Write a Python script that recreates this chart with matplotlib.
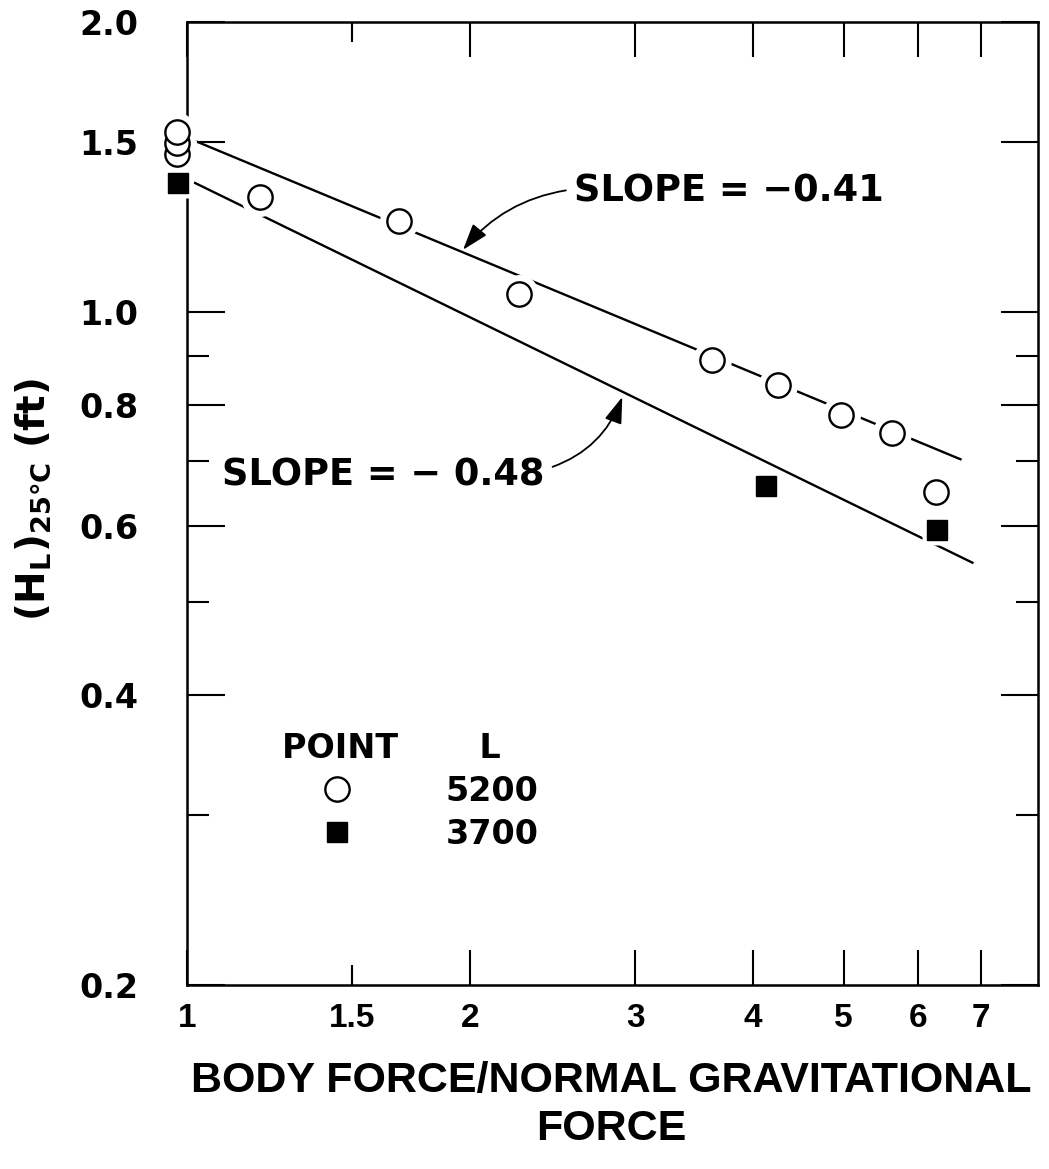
import matplotlib
matplotlib.use('Agg')
import matplotlib.pyplot as plt
from matplotlib.ticker import FixedLocator, FixedFormatter

plt.rcParams['font.family'] = 'DejaVu Sans'
plt.rcParams['font.weight'] = 'bold'
plt.rcParams['mathtext.fontset'] = 'dejavusans'
plt.rcParams['mathtext.default'] = 'bf'

# L = 5200 (open circles)
force_5200 = [0.976, 0.976, 0.976, 1.196, 1.682, 2.258, 3.624, 4.260, 4.971, 5.634, 6.277]
hl_5200 = [1.458, 1.497, 1.537, 1.316, 1.243, 1.044, 0.891, 0.840, 0.781, 0.749, 0.650]

# L = 3700 (filled squares)
force_3700 = [0.978, 4.136, 6.292]
hl_3700 = [1.361, 0.660, 0.594]

# fitted lines
fit_041_x = [1.015, 6.657]
fit_041_y = [1.508, 0.703]
fit_048_x = [1.020, 6.855]
fit_048_y = [1.361, 0.549]

x_major = [1, 2, 3, 4, 5, 6, 7]
x_major_labels = ['1', '2', '3', '4', '5', '6', '7']
x_minor = [1.5]
x_minor_labels = ['1.5']
y_major = [0.2, 0.4, 0.6, 0.8, 1.0, 1.5, 2.0]
y_major_labels = ['0.2', '0.4', '0.6', '0.8', '1.0', '1.5', '2.0']
y_minor = [0.3, 0.5, 0.7, 0.9]

fig = plt.figure(figsize=(10.49, 11.69), dpi=100)
ax = fig.add_axes([187 / 1049, (1169 - 985) / 1169, (1038 - 187) / 1049, 963 / 1169])
ax.set_xscale('log')
ax.set_yscale('log')
ax.set_xlim(1, 8.05)
ax.set_ylim(0.2, 2.0)

# lines
ax.plot(fit_041_x, fit_041_y, color='black', lw=1.7, zorder=2)
ax.plot(fit_048_x, fit_048_y, color='black', lw=1.7, zorder=2)

# white halos so the lines break around the markers
ax.plot(force_5200, hl_5200, 'o', ms=28, mfc='white', mec='none', zorder=3, clip_on=False)
ax.plot(force_3700, hl_3700, 's', ms=21, mfc='white', mec='none', zorder=3, clip_on=False)

h1, = ax.plot(force_5200, hl_5200, 'o', ms=17.5, mfc='white', mec='black', mew=1.7,
              zorder=5, clip_on=False, label='5200')
h2, = ax.plot(force_3700, hl_3700, 's', ms=14.5, mfc='black', mec='black',
              zorder=5, clip_on=False, label='3700')

for sp in ax.spines.values():
    sp.set_linewidth(1.8)

ax.xaxis.set_major_locator(FixedLocator(x_major))
ax.xaxis.set_major_formatter(FixedFormatter(x_major_labels))
ax.xaxis.set_minor_locator(FixedLocator(x_minor))
ax.xaxis.set_minor_formatter(FixedFormatter(x_minor_labels))
ax.yaxis.set_major_locator(FixedLocator(y_major))
ax.yaxis.set_major_formatter(FixedFormatter(y_major_labels))
ax.yaxis.set_minor_locator(FixedLocator(y_minor))
ax.yaxis.set_minor_formatter(FixedFormatter([''] * len(y_minor)))

ax.tick_params(which='both', direction='in', top=True, right=True, width=1.5, color='black')
ax.tick_params(axis='x', which='major', length=25, pad=13, labelsize=24)
ax.tick_params(axis='x', which='minor', length=14.5, pad=13, labelsize=24)
ax.tick_params(axis='y', which='major', length=27, pad=35, labelsize=24)
ax.tick_params(axis='y', which='minor', length=16, pad=35)
for lbl in ax.get_xticklabels(which='both'):
    lbl.set_fontfamily('Liberation Sans')
    lbl.set_fontweight('bold')

# slope annotations
ax.annotate('SLOPE = \u22120.41', xy=(1.967, 1.160), xytext=(2.583, 1.335),
            ha='left', va='center', fontsize=26.5,
            arrowprops=dict(arrowstyle='-|>,head_length=0.9,head_width=0.3',
                            connectionstyle='arc3,rad=0.2', relpos=(0, 0.55),
                            shrinkA=4, shrinkB=0, color='black', lw=1.3,
                            mutation_scale=18))
ax.annotate('SLOPE = \u2212 0.48', xy=(2.906, 0.816), xytext=(1.090, 0.677),
            ha='left', va='center', fontsize=26.5,
            arrowprops=dict(arrowstyle='-|>,head_length=0.9,head_width=0.3',
                            connectionstyle='arc3,rad=0.25', relpos=(1, 0.65),
                            shrinkA=4, shrinkB=0, color='black', lw=1.3,
                            mutation_scale=18))

leg = ax.legend(handles=[h1, h2], title='POINT       L', loc='upper left',
                bbox_to_anchor=((282 - 187) / 851, (985 - 732) / 963),
                frameon=False, fontsize=24, title_fontsize=24, alignment='left',
                borderpad=0, borderaxespad=0, handlelength=3.3, handletextpad=1.6,
                labelspacing=0.3)
leg.get_title().set_fontweight('bold')

fig.text(33 / 1049, 1 - 500 / 1169, r'$(H_L)_{25\degree C}$ (ft)', rotation=90,
         ha='center', va='center', fontsize=28)
fig.text(611 / 1049, 1 - 1105 / 1169, 'BODY FORCE/NORMAL GRAVITATIONAL\nFORCE',
         ha='center', va='center', multialignment='center', fontsize=31,
         family='Liberation Sans', weight='bold', linespacing=1.25)

fig.savefig('out.png', dpi=100)
